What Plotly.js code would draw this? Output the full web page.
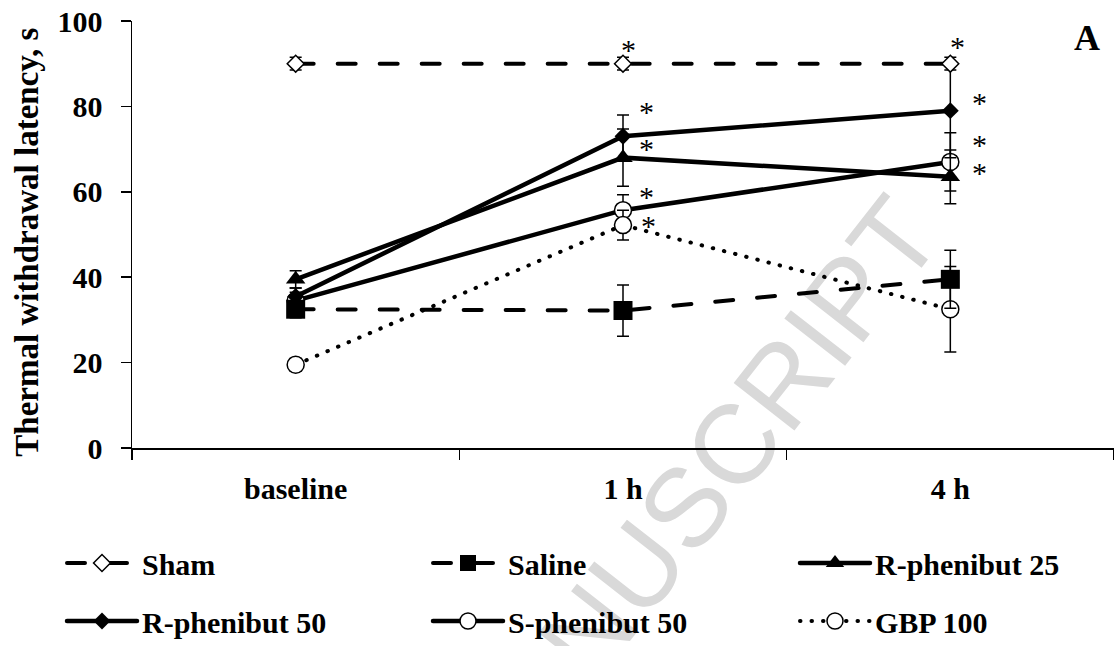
<!DOCTYPE html>
<html>
<head>
<meta charset="utf-8">
<script src="https://cdn.plot.ly/plotly-3.0.1.min.js"></script>
<style>
  html, body { margin: 0; padding: 0; background: #fff; }
  #chart { width: 1114px; height: 646px; }
  .js-line { stroke-linecap: round !important; }
</style>
</head>
<body>
<div id="chart"></div>
<script>
// ---- data ----
const categories = ['baseline', '1 h', '4 h'];
const seriesNames = ['Sham', 'Saline', 'R-phenibut 25', 'R-phenibut 50', 'S-phenibut 50', 'GBP 100'];

const sham      = [90, 90, 90];
const shamErr   = [1.5, 1.5, 1.5];
const saline    = [32.5, 32.2, 39.5];
const salineErr = [2, 6, 6.8];
const r25       = [39.5, 68, 63.5];
const r25Err    = [2, 6.7, 6.3];
const r50       = [35.5, 73, 79];
const r50Err    = [2, 5, 11];
const s50       = [34.5, 55.7, 67];
const s50Err    = [2, 3.6, 6.8];
const gbp       = [19.5, 52.2, 32.5];
const gbpErr    = [1.5, 3.5, 10];

// significance markers (*) per series, per category
const shamSig   = [false, true, true];
const salineSig = [false, false, false];
const r25Sig    = [false, true, true];
const r50Sig    = [false, true, true];
const s50Sig    = [false, true, true];
const gbpSig    = [false, true, false];

const yTicks = [0, 20, 40, 60, 80, 100];
const yTitle = 'Thermal withdrawal latency, s';
const panelLabel = 'A';
const watermark = 'MANUSCRIPT';

// ---- styles ----
const SERIF = 'Liberation Serif';
const dashed = '18px,24px';
const dotted = '0.5px,11px';
const B = s => '<b>' + s + '</b>';

const styleOf = {
  'Sham':          {dash: dashed, width: 4,   symbol: 'diamond',     size: 13, fill: '#fff', legend: 'legend',  off: [null, [5, -17], [7, -20]]},
  'Saline':        {dash: dashed, width: 4,   symbol: 'square',      size: 19, fill: '#000', legend: 'legend2', off: [null, null, null]},
  'R-phenibut 25': {dash: 'solid', width: 4.5, symbol: 'triangle-up', size: 17, fill: '#000', legend: 'legend3', off: [null, [23, -12], [29, -7]]},
  'R-phenibut 50': {dash: 'solid', width: 4.5, symbol: 'diamond',     size: 13, fill: '#000', legend: 'legend4', off: [null, [23, -28], [29, -11]]},
  'S-phenibut 50': {dash: 'solid', width: 4.5, symbol: 'circle',      size: 17, fill: '#fff', legend: 'legend5', off: [null, [23, -17], [29, -20]]},
  'GBP 100':       {dash: dotted, width: 4,   symbol: 'circle',      size: 17, fill: '#fff', legend: 'legend6', off: [null, [25, -3], null]}
};

const seriesData = {
  'Sham':          [sham, shamErr, shamSig],
  'Saline':        [saline, salineErr, salineSig],
  'R-phenibut 25': [r25, r25Err, r25Sig],
  'R-phenibut 50': [r50, r50Err, r50Sig],
  'S-phenibut 50': [s50, s50Err, s50Sig],
  'GBP 100':       [gbp, gbpErr, gbpSig]
};

// draw order (bottom to top)
const drawOrder = ['S-phenibut 50', 'GBP 100', 'R-phenibut 50', 'R-phenibut 25', 'Saline', 'Sham'];

const traces = drawOrder.map(name => {
  const st = styleOf[name];
  const [vals, errs] = seriesData[name];
  const open = st.fill === '#fff';
  return {
    type: 'scatter', mode: 'lines+markers', name: B(name),
    x: categories, y: vals,
    legend: st.legend,
    line: {color: '#000', width: st.width, dash: st.dash},
    marker: {symbol: st.symbol, size: st.size, color: st.fill,
             line: {color: '#000', width: open ? 1.5 : 0}},
    error_y: {type: 'data', array: errs, visible: true, color: '#000', thickness: 1.5, width: 6},
    cliponaxis: false,
    hoverinfo: 'x+y'
  };
});

// asterisk annotations
const annotations = [];
seriesNames.forEach(name => {
  const [vals, , sig] = seriesData[name];
  const off = styleOf[name].off;
  sig.forEach((s, i) => {
    if (!s || !off[i]) return;
    annotations.push({
      x: categories[i], y: vals[i], xref: 'x', yref: 'y',
      text: '*', showarrow: false,
      xshift: off[i][0], yshift: -(off[i][1] + 3),
      font: {family: SERIF, size: 30, color: '#000'}
    });
  });
});
annotations.push({
  xref: 'paper', yref: 'paper', x: 0.972, y: 0.96, xanchor: 'center', yanchor: 'middle',
  text: B(panelLabel), showarrow: false,
  font: {family: SERIF, size: 36, color: '#000'}
});
annotations.push({
  xref: 'paper', yref: 'paper', x: -0.107, y: 0.483, xanchor: 'center', yanchor: 'middle',
  text: B(yTitle), textangle: -90, showarrow: false,
  font: {family: SERIF, size: 33, color: '#000'}
});

// legends: three columns x two rows
const legendCols = [62, 428, 795];
const legendRows = [563, 621];
const layout = {
  width: 1114, height: 646,
  margin: {l: 132, r: 0, t: 21, b: 198, autoexpand: false},
  paper_bgcolor: '#fff', plot_bgcolor: 'rgba(0,0,0,0)',
  font: {family: SERIF, color: '#000'},
  xaxis: {
    type: 'category', range: [-0.5, 2.5], tickson: 'boundaries',
    tickvals: categories, ticktext: categories.map(B),
    showline: true, linecolor: '#000', linewidth: 1.5, automargin: false,
    ticks: 'outside', ticklen: 10, tickwidth: 1.5, tickcolor: '#000', tickangle: 0,
    showgrid: false, zeroline: false, ticklabelstandoff: 13,
    tickfont: {family: SERIF, size: 30, color: '#000'}
  },
  yaxis: {
    range: [0, 100], tickvals: yTicks, ticktext: yTicks.map(v => B(String(v))),
    showline: true, linecolor: '#000', linewidth: 1.5, automargin: false,
    ticks: 'outside', ticklen: 10, tickwidth: 1.5, tickcolor: '#000',
    showgrid: false, zeroline: false, ticklabelstandoff: 12,
    tickfont: {family: SERIF, size: 30, color: '#000'}
  },
  annotations: annotations,
  shapes: [{
    type: 'line', xref: 'paper', yref: 'paper', layer: 'below',
    x0: 0.51, y0: -0.15, x1: 0.604, y1: -0.084,
    line: {width: 0, color: 'rgba(0,0,0,0)'},
    label: {text: watermark, textangle: -52, textposition: 'middle',
            xanchor: 'center', yanchor: 'middle',
            font: {family: 'Liberation Sans', size: 112, color: '#d9d9d9'}}
  }],
  showlegend: true
};
seriesNames.forEach((name, k) => {
  const id = styleOf[name].legend;
  const col = k % 3, row = Math.floor(k / 3);
  layout[id] = {
    xref: 'container', yref: 'container',
    x: legendCols[col] / 1114, y: 1 - legendRows[row] / 646,
    xanchor: 'left', yanchor: 'middle', orientation: 'v',
    itemwidth: 70, bgcolor: 'rgba(0,0,0,0)', borderwidth: 0,
    font: {family: SERIF, size: 30, color: '#000'}
  };
});

Plotly.newPlot('chart', traces, layout, {displayModeBar: false, staticPlot: true});
</script>
</body>
</html>
